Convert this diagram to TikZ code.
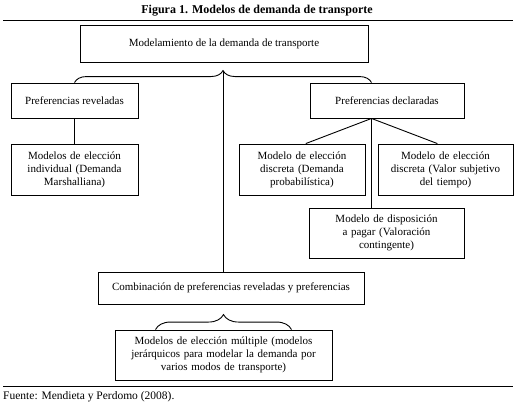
\documentclass[tikz,border=0pt]{standalone}
\usepackage{fontspec}
\setmainfont{Liberation Serif}
\usetikzlibrary{calc,decorations.pathreplacing}
\begin{document}
\begin{tikzpicture}[x=1pt,y=-1pt,
  box/.style={draw,line width=0.9pt,inner sep=2pt,align=center,font=\fontsize{11}{13}\selectfont},
  conn/.style={line width=0.9pt},
  bracec/.style={line width=0.9pt,decorate,decoration={brace,amplitude=#1}}]
\useasboundingbox (0,0) rectangle (531,405);
\node[font=\bfseries\fontsize{12}{14}\selectfont] (title) at (257,11) {Figura 1. Modelos de demanda de transporte};
\draw[line width=0.9pt] (3,20) -- (513,20);
\node[box,minimum width=288,minimum height=37] (top) at (224,43.5) {Modelamiento de la demanda de transporte};
\node[box,minimum width=127,minimum height=35] (rev) at (74.5,100.5) {Preferencias reveladas};
\node[box,minimum width=154,minimum height=35] (dec) at (387,100.5) {Preferencias declaradas};
\node[box,minimum width=127,minimum height=51,text width=122] (ind) at (74.5,169.5) {Modelos de elección\\individual (Demanda\\Marshalliana)};
\node[box,minimum width=126,minimum height=51,text width=122] (disc1) at (302,169.5) {Modelo de elección\\discreta (Demanda\\probabilística)};
\node[box,minimum width=135,minimum height=51,text width=130] (disc2) at (445.5,169.5) {Modelo de elección\\discreta (Valor subjetivo\\del tiempo)};
\node[box,minimum width=155,minimum height=50,text width=150] (pay) at (386.5,233) {Modelo de disposición\\a pagar (Valoración\\contingente)};
\node[box,minimum width=266,minimum height=32] (comb) at (231,288) {Combinación de preferencias reveladas y preferencias};
\node[box,minimum width=217,minimum height=50,text width=212] (mult) at (223.5,355) {Modelos de elección múltiple (modelos\\jerárquicos para modelar la demanda por\\varios modos de transporte)};
\draw[line width=0.9pt] (3,386) -- (513,386);
\node[anchor=west,inner sep=0pt,font=\fontsize{11.5}{13}\selectfont] (src) at (3,397) {Fuente: Mendieta y Perdomo (2008).};
% connectors
\coordinate (decn) at ($(dec.north west)!0.4!(dec.north east)$);
\coordinate (decs) at ($(dec.south west)!0.4!(dec.south east)$);
\draw[bracec=12pt] (rev.north) -- (decn);
\coordinate (tip) at ($(rev.north)!0.5!(decn)+(0,-12)$);
\draw[conn] (tip) -- (tip |- comb.north);
\draw[conn] (rev.south) -- (ind.north);
\draw[conn] (decs) -- ($(disc1.north west)!0.53!(disc1.north east)$);
\draw[conn] (decs) -- ($(disc2.north west)!0.44!(disc2.north east)$);
\draw[conn] (decs) -- (decs |- pay.north);
\draw[bracec=15pt] ($(mult.north)+(-68,0)$) -- ($(mult.north)+(68,0)$);
\end{tikzpicture}
\end{document}
